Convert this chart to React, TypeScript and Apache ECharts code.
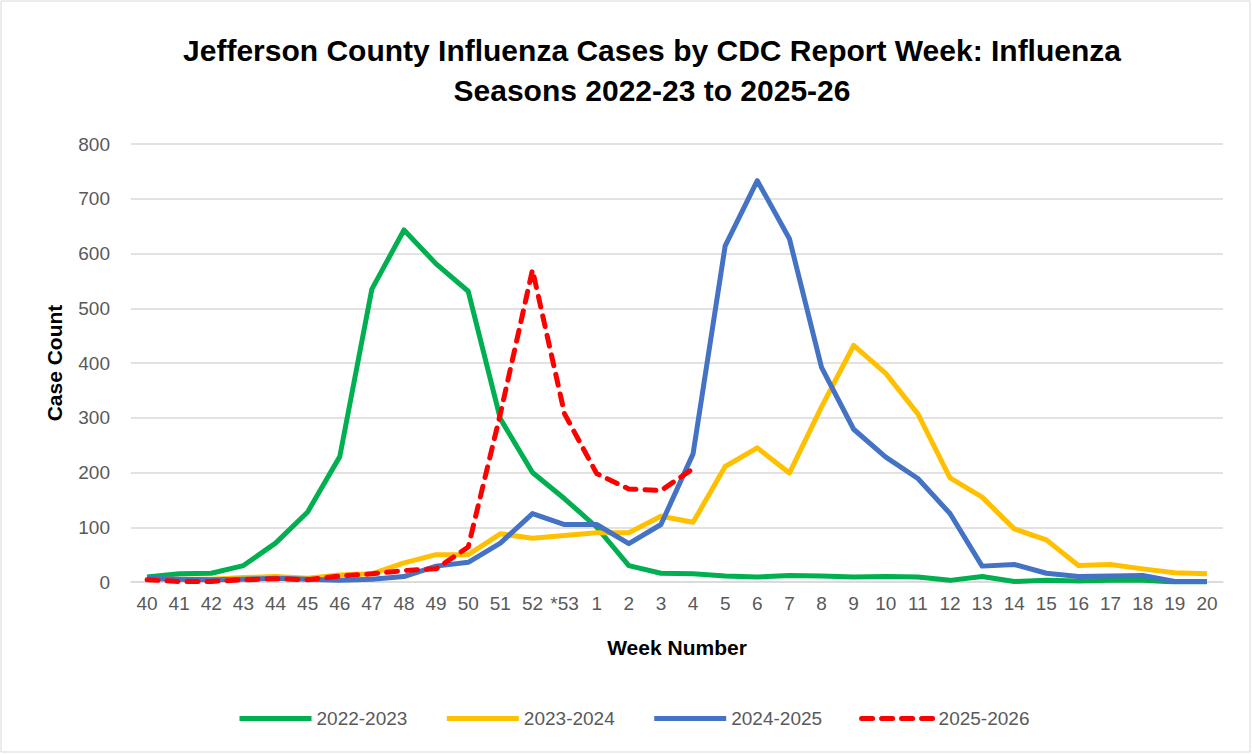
import React, { useEffect, useRef } from "react";
import * as echarts from "echarts";

const weeks = ["40","41","42","43","44","45","46","47","48","49","50","51","52","*53","1","2","3","4","5","6","7","8","9","10","11","12","13","14","15","16","17","18","19","20"];

const season2022 = [9,15,16,30,71,128,229,535,643,581,531,298,200,152,100,30,16,15,11,9,12,11,9,10,9,3,10,1,3,2,3,3,0,0];
const season2023 = [5,5,5,8,10,7,13,15,35,50,50,88,80,85,90,90,120,109,211,245,199,320,432,381,307,190,155,97,77,30,32,24,17,15];
const season2024 = [7,5,4,5,7,5,3,5,10,29,36,71,125,105,105,70,105,234,614,733,627,392,279,228,189,125,29,32,16,10,11,12,1,1];
const season2026 = [4,1,1,4,6,4,11,15,21,24,64,307,570,307,198,170,167,207];

const seriesNames = ["2022-2023", "2023-2024", "2024-2025", "2025-2026"];
const yTicks = { min: 0, max: 800, interval: 100 };

export default function App() {
  const ref = useRef<HTMLDivElement>(null);
  useEffect(() => {
    document.body.style.margin = "0";
    const chart = echarts.init(ref.current!, null, { renderer: "svg" });
    const labelFont = "'Liberation Sans Narrow', 'Liberation Sans', Arial, sans-serif";
    const boldFont = "'Liberation Sans', Arial, sans-serif";
    chart.setOption({
      animation: false,
      backgroundColor: "#ffffff",
      title: {
        text: "Jefferson County Influenza Cases by CDC Report Week: Influenza\nSeasons 2022-23 to 2025-26",
        left: 647,
        textAlign: "center",
        top: 25,
        textStyle: { fontFamily: boldFont, fontWeight: "bold", fontSize: 30, lineHeight: 40, color: "#000000" },
      },
      graphic: [
        { type: "rect", shape: { x: 1, y: 1, width: 1249, height: 751 }, style: { fill: "none", stroke: "#d9d9d9", lineWidth: 1 }, silent: true },
      ],
      legend: {
        left: 232,
        top: 704,
        itemWidth: 72,
        itemHeight: 14,
        itemGap: 37,
        itemStyle: { opacity: 0 },
        lineStyle: { width: 5 },
        textStyle: { fontFamily: labelFont, fontSize: 19, color: "#595959" },
        data: seriesNames,
      },
      grid: { left: 131, right: 29, top: 144, bottom: 172, containLabel: false },
      xAxis: {
        type: "category",
        data: weeks,
        boundaryGap: true,
        name: "Week Number",
        nameLocation: "middle",
        nameGap: 55,
        nameTextStyle: { fontFamily: boldFont, fontWeight: "bold", fontSize: 21, color: "#000000" },
        axisLine: { show: true, lineStyle: { color: "#d9d9d9", width: 1.5 } },
        axisTick: { show: false },
        axisLabel: { interval: 0, margin: 12, fontFamily: labelFont, fontSize: 19, color: "#595959" },
        splitLine: { show: false },
      },
      yAxis: {
        type: "value",
        min: yTicks.min,
        max: yTicks.max,
        interval: yTicks.interval,
        name: "Case Count",
        nameLocation: "middle",
        nameGap: 66,
        nameRotate: 90,
        nameTextStyle: { fontFamily: boldFont, fontWeight: "bold", fontSize: 21, color: "#000000" },
        axisLine: { show: false },
        axisTick: { show: false },
        axisLabel: { margin: 21, fontFamily: labelFont, fontSize: 19, color: "#595959" },
        splitLine: { lineStyle: { color: "#d9d9d9", width: 1.5 } },
      },
      series: [
        { name: seriesNames[0], type: "line", data: season2022, symbol: "none", color: "#00B050", lineStyle: { width: 5, color: "#00B050", join: "round" } },
        { name: seriesNames[1], type: "line", data: season2023, symbol: "none", color: "#FFC000", lineStyle: { width: 5, color: "#FFC000", join: "round" } },
        { name: seriesNames[2], type: "line", data: season2024, symbol: "none", color: "#4472C4", lineStyle: { width: 5, color: "#4472C4", join: "round" } },
        { name: seriesNames[3], type: "line", data: season2026, symbol: "none", color: "#FF0000", lineStyle: { width: 5, color: "#FF0000", type: [11, 9], cap: "round", join: "round" } },
      ],
    });
    return () => chart.dispose();
  }, []);
  return <div ref={ref} style={{ width: 1252, height: 754 }} />;
}
